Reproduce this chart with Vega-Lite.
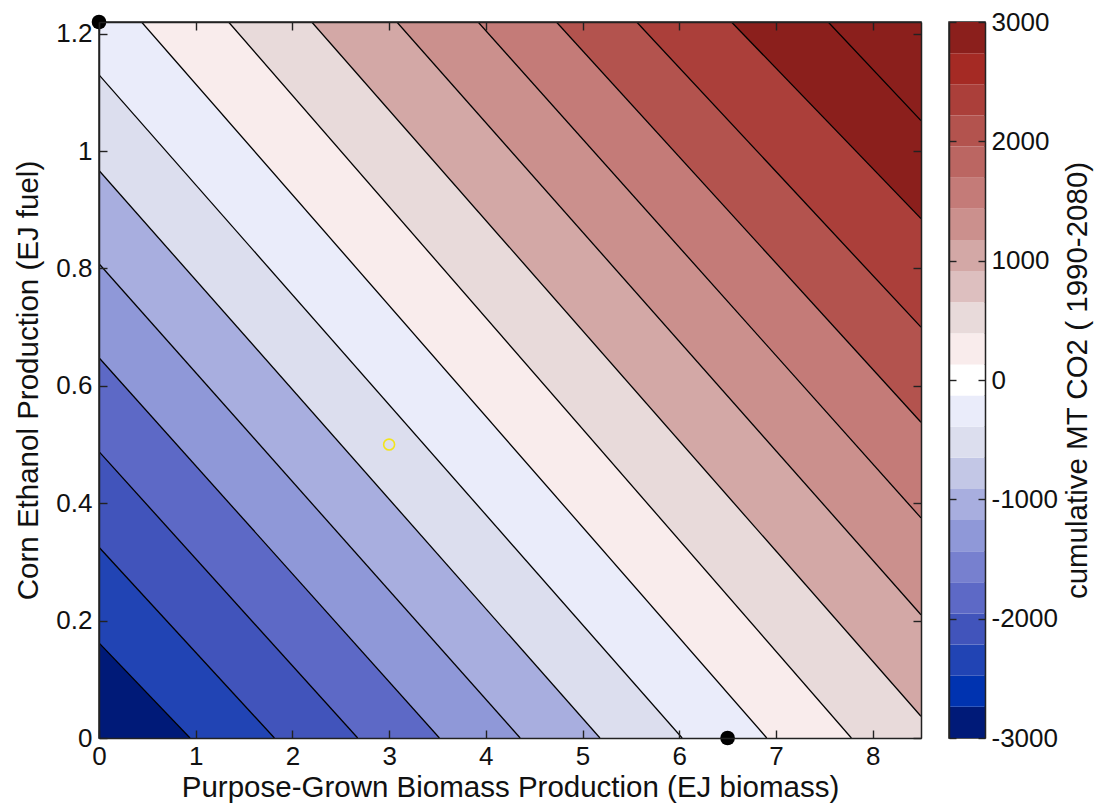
{
  "$schema": "https://vega.github.io/schema/vega-lite/v6.json",
  "padding": {"left": 13, "top": 8, "right": 2, "bottom": 5},
  "background": "white",
  "config": {
    "font": "Liberation Sans",
    "view": {"stroke": "#222", "strokeWidth": 1.5},
    "axis": {
      "grid": false,
      "labelFlush": false,
      "domainColor": "#222",
      "domainWidth": 1.5,
      "tickColor": "#222",
      "tickWidth": 1.4,
      "labelFont": "Liberation Sans",
      "labelFontSize": 26,
      "labelColor": "#111",
      "titleFont": "Liberation Sans",
      "titleFontSize": 29.5,
      "titleFontWeight": "normal",
      "titleColor": "#111"
    }
  },
  "datasets": {
    "regions": [
      {"band": 0, "level": 1, "x": 0, "y": 0},
      {"band": 0, "level": 1, "x": 8.5, "y": 0},
      {"band": 1, "level": 3, "x": 0, "y": 0.162},
      {"band": 1, "level": 3, "x": 0.941, "y": 0},
      {"band": 1, "level": 3, "x": 8.5, "y": 0},
      {"band": 2, "level": 4, "x": 0, "y": 0.325},
      {"band": 2, "level": 4, "x": 1.814, "y": 0},
      {"band": 2, "level": 4, "x": 8.5, "y": 0},
      {"band": 3, "level": 5, "x": 0, "y": 0.488},
      {"band": 3, "level": 5, "x": 2.675, "y": 0},
      {"band": 3, "level": 5, "x": 8.5, "y": 0},
      {"band": 4, "level": 7, "x": 0, "y": 0.648},
      {"band": 4, "level": 7, "x": 3.52, "y": 0},
      {"band": 4, "level": 7, "x": 8.5, "y": 0},
      {"band": 5, "level": 8, "x": 0, "y": 0.808},
      {"band": 5, "level": 8, "x": 4.355, "y": 0},
      {"band": 5, "level": 8, "x": 8.5, "y": 0},
      {"band": 6, "level": 10, "x": 0, "y": 0.967},
      {"band": 6, "level": 10, "x": 5.18, "y": 0},
      {"band": 6, "level": 10, "x": 8.5, "y": 0},
      {"band": 7, "level": 11, "x": 0, "y": 1.13},
      {"band": 7, "level": 11, "x": 6.03, "y": 0},
      {"band": 7, "level": 11, "x": 8.5, "y": 0},
      {"band": 8, "level": 13, "x": 0.44, "y": 1.22},
      {"band": 8, "level": 13, "x": 6.905, "y": 0},
      {"band": 8, "level": 13, "x": 8.5, "y": 0},
      {"band": 9, "level": 14, "x": 1.34, "y": 1.22},
      {"band": 9, "level": 14, "x": 7.78, "y": 0},
      {"band": 9, "level": 14, "x": 8.5, "y": 0},
      {"band": 10, "level": 16, "x": 2.2, "y": 1.22},
      {"band": 10, "level": 16, "x": 8.5, "y": 0.037},
      {"band": 11, "level": 17, "x": 3.08, "y": 1.22},
      {"band": 11, "level": 17, "x": 8.5, "y": 0.21},
      {"band": 12, "level": 18, "x": 3.92, "y": 1.22},
      {"band": 12, "level": 18, "x": 8.5, "y": 0.375},
      {"band": 13, "level": 20, "x": 4.73, "y": 1.22},
      {"band": 13, "level": 20, "x": 8.5, "y": 0.538},
      {"band": 14, "level": 21, "x": 5.56, "y": 1.22},
      {"band": 14, "level": 21, "x": 8.5, "y": 0.7},
      {"band": 15, "level": 23, "x": 6.54, "y": 1.22},
      {"band": 15, "level": 23, "x": 8.5, "y": 0.885},
      {"band": 16, "level": 23, "x": 7.54, "y": 1.22},
      {"band": 16, "level": 23, "x": 8.5, "y": 1.052}
    ],
    "contours": [
      {"k": 0, "x1": 0, "y1": 0.162, "x2": 0.941, "y2": 0},
      {"k": 1, "x1": 0, "y1": 0.325, "x2": 1.814, "y2": 0},
      {"k": 2, "x1": 0, "y1": 0.488, "x2": 2.675, "y2": 0},
      {"k": 3, "x1": 0, "y1": 0.648, "x2": 3.52, "y2": 0},
      {"k": 4, "x1": 0, "y1": 0.808, "x2": 4.355, "y2": 0},
      {"k": 5, "x1": 0, "y1": 0.967, "x2": 5.18, "y2": 0},
      {"k": 6, "x1": 0, "y1": 1.13, "x2": 6.03, "y2": 0},
      {"k": 7, "x1": 0.44, "y1": 1.22, "x2": 6.905, "y2": 0},
      {"k": 8, "x1": 1.34, "y1": 1.22, "x2": 7.78, "y2": 0},
      {"k": 9, "x1": 2.2, "y1": 1.22, "x2": 8.5, "y2": 0.037},
      {"k": 10, "x1": 3.08, "y1": 1.22, "x2": 8.5, "y2": 0.21},
      {"k": 11, "x1": 3.92, "y1": 1.22, "x2": 8.5, "y2": 0.375},
      {"k": 12, "x1": 4.73, "y1": 1.22, "x2": 8.5, "y2": 0.538},
      {"k": 13, "x1": 5.56, "y1": 1.22, "x2": 8.5, "y2": 0.7},
      {"k": 14, "x1": 6.54, "y1": 1.22, "x2": 8.5, "y2": 0.885},
      {"k": 15, "x1": 7.54, "y1": 1.22, "x2": 8.5, "y2": 1.052}
    ],
    "cbar": [
      {"level": 1, "lo": -3000, "hi": -2739.1},
      {"level": 2, "lo": -2739.1, "hi": -2478.3},
      {"level": 3, "lo": -2478.3, "hi": -2217.4},
      {"level": 4, "lo": -2217.4, "hi": -1956.5},
      {"level": 5, "lo": -1956.5, "hi": -1695.7},
      {"level": 6, "lo": -1695.7, "hi": -1434.8},
      {"level": 7, "lo": -1434.8, "hi": -1173.9},
      {"level": 8, "lo": -1173.9, "hi": -913.0},
      {"level": 9, "lo": -913.0, "hi": -652.2},
      {"level": 10, "lo": -652.2, "hi": -391.3},
      {"level": 11, "lo": -391.3, "hi": -130.4},
      {"level": 12, "lo": -130.4, "hi": 130.4},
      {"level": 13, "lo": 130.4, "hi": 391.3},
      {"level": 14, "lo": 391.3, "hi": 652.2},
      {"level": 15, "lo": 652.2, "hi": 913.0},
      {"level": 16, "lo": 913.0, "hi": 1173.9},
      {"level": 17, "lo": 1173.9, "hi": 1434.8},
      {"level": 18, "lo": 1434.8, "hi": 1695.7},
      {"level": 19, "lo": 1695.7, "hi": 1956.5},
      {"level": 20, "lo": 1956.5, "hi": 2217.4},
      {"level": 21, "lo": 2217.4, "hi": 2478.3},
      {"level": 22, "lo": 2478.3, "hi": 2739.1},
      {"level": 23, "lo": 2739.1, "hi": 3000}
    ],
    "markers": [
      {"name": "A", "x": 0, "y": 1.22},
      {"name": "B", "x": 6.5, "y": 0}
    ],
    "target": [
      {"name": "C", "x": 3, "y": 0.5}
    ]
  },
  "spacing": 24,
  "hconcat": [
    {
      "width": 822,
      "height": 716,
      "layer": [
        {
          "data": {"name": "regions"},
          "mark": {"type": "area", "orient": "vertical", "clip": true, "interpolate": "linear"},
          "encoding": {
            "x": {
              "field": "x", "type": "quantitative",
              "scale": {"domain": [0, 8.5], "nice": false, "zero": false},
              "axis": {"orient": "bottom", "zindex": 2, "values": [0, 1, 2, 3, 4, 5, 6, 7, 8], "format": "~g", "tickSize": -8, "labelPadding": 13, "title": "Purpose-Grown Biomass Production (EJ biomass)", "titlePadding": 4}
            },
            "y": {
              "field": "y", "type": "quantitative", "stack": null,
              "scale": {"domain": [0, 1.22], "nice": false, "zero": false},
              "axis": {"orient": "left", "zindex": 2, "values": [0, 0.2, 0.4, 0.6, 0.8, 1, 1.2], "format": "~g", "tickSize": -8, "labelPadding": 15, "title": "Corn Ethanol Production (EJ fuel)", "titlePadding": 12}
            },
            "y2": {"datum": 1.22},
            "color": {
              "field": "level", "type": "ordinal", "legend": null,
              "scale": {
                "domain": [1, 2, 3, 4, 5, 6, 7, 8, 9, 10, 11, 12, 13, 14, 15, 16, 17, 18, 19, 20, 21, 22, 23],
                "range": ["#001A78", "#0033B0", "#2144B4", "#4154BB", "#5D69C6", "#7780CF", "#8F98D8", "#A8AEDF", "#C3C7E6", "#DCDEEE", "#EAECFA", "#FFFFFF", "#F9ECEC", "#E8DADA", "#DDBFBF", "#D3A8A6", "#CB908D", "#C47B78", "#BB6662", "#B3534E", "#AB3F3A", "#A52A24", "#8B1F1C"]
              }
            },
            "detail": {"field": "band", "type": "quantitative"}
          }
        },
        {
          "data": {"name": "contours"},
          "mark": {"type": "rule", "clip": true, "color": "#000", "strokeWidth": 1.3},
          "encoding": {
            "x": {"field": "x1", "type": "quantitative", "axis": {"orient": "top", "zindex": 2, "values": [0, 1, 2, 3, 4, 5, 6, 7, 8], "labels": false, "tickSize": -8, "title": null}},
            "y": {"field": "y1", "type": "quantitative", "axis": {"orient": "right", "zindex": 2, "values": [0, 0.2, 0.4, 0.6, 0.8, 1, 1.2], "labels": false, "tickSize": -8, "title": null}},
            "x2": {"field": "x2"},
            "y2": {"field": "y2"}
          }
        },
        {
          "data": {"name": "markers"},
          "mark": {"type": "point", "filled": true, "clip": false, "color": "#000", "size": 215, "opacity": 1},
          "encoding": {
            "x": {"field": "x", "type": "quantitative", "axis": null},
            "y": {"field": "y", "type": "quantitative", "axis": null}
          }
        },
        {
          "data": {"name": "target"},
          "mark": {"type": "point", "filled": false, "clip": false, "color": "#F2E41C", "size": 120, "strokeWidth": 1.6, "opacity": 1},
          "encoding": {
            "x": {"field": "x", "type": "quantitative", "axis": null},
            "y": {"field": "y", "type": "quantitative", "axis": null}
          }
        }
      ],
      "resolve": {"axis": {"x": "independent", "y": "independent"}}
    },
    {
      "width": 36,
      "height": 716,
      "data": {"name": "cbar"},
      "layer": [
        {
          "mark": {"type": "rect"},
          "encoding": {
            "x": {"datum": 0, "type": "quantitative", "scale": {"domain": [0, 1], "nice": false, "zero": false}, "axis": null},
            "x2": {"datum": 1},
            "y": {
              "field": "lo", "type": "quantitative",
              "scale": {"domain": [-3000, 3000], "nice": false, "zero": false},
              "axis": {"orient": "right", "zindex": 2, "values": [-3000, -2000, -1000, 0, 1000, 2000, 3000], "labelExpr": "datum.value + ''", "tickSize": -7, "labelPadding": 13, "title": "cumulative MT CO2 ( 1990-2080)", "titleAngle": 270, "titlePadding": 35}
            },
            "y2": {"field": "hi"},
            "color": {
              "field": "level", "type": "ordinal", "legend": null,
              "scale": {
                "domain": [1, 2, 3, 4, 5, 6, 7, 8, 9, 10, 11, 12, 13, 14, 15, 16, 17, 18, 19, 20, 21, 22, 23],
                "range": ["#001A78", "#0033B0", "#2144B4", "#4154BB", "#5D69C6", "#7780CF", "#8F98D8", "#A8AEDF", "#C3C7E6", "#DCDEEE", "#EAECFA", "#FFFFFF", "#F9ECEC", "#E8DADA", "#DDBFBF", "#D3A8A6", "#CB908D", "#C47B78", "#BB6662", "#B3534E", "#AB3F3A", "#A52A24", "#8B1F1C"]
              }
            }
          }
        },
        {
          "mark": {"type": "rect", "opacity": 0},
          "encoding": {
            "x": {"datum": 0, "type": "quantitative", "axis": null},
            "x2": {"datum": 1},
            "y": {
              "field": "lo", "type": "quantitative",
              "axis": {"orient": "left", "zindex": 2, "values": [-3000, -2000, -1000, 0, 1000, 2000, 3000], "labels": false, "tickSize": -7, "title": null}
            },
            "y2": {"field": "hi"}
          }
        }
      ],
      "resolve": {"axis": {"y": "independent"}}
    }
  ]
}
